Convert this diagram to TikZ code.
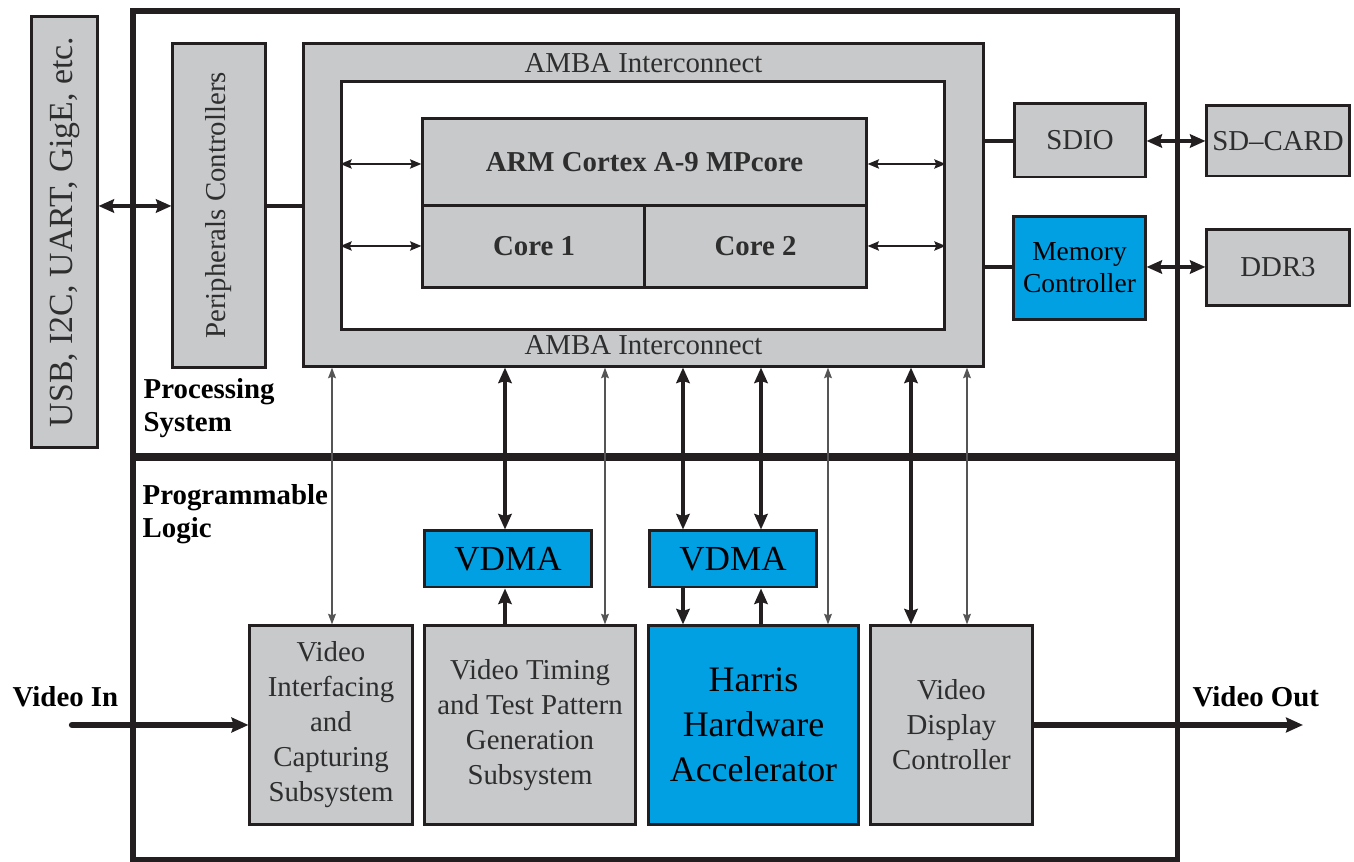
\documentclass[tikz,border=0pt]{standalone}
\usepackage{fontspec}
\setmainfont{Liberation Serif}
\usetikzlibrary{arrows.meta}
\definecolor{boxgray}{HTML}{C8C9CB}
\definecolor{boxblue}{HTML}{00A0E3}
\definecolor{txtgray}{HTML}{2E2E2E}
\definecolor{edge}{HTML}{231F20}
\definecolor{thingray}{HTML}{555555}
\begin{document}
\begin{tikzpicture}[x=0.01cm,y=-0.01cm,
  basefont/.style={font=\fontsize{8.2}{9.96}\selectfont},
  gbox/.style={draw=edge, line width=0.85pt, fill=boxgray, inner sep=0pt,
    text=txtgray, align=center, basefont},
  bbox/.style={gbox, fill=boxblue, text=black},
  bigtxt/.style={font=\fontsize{10.2}{12.8}\selectfont},
  lbl/.style={inner sep=0pt, align=left, text=black,
    font=\fontsize{8.2}{9.5}\selectfont\bfseries},
  thick arr/.style={draw=edge, line width=1.15pt,
    {Stealth[length=4.4pt,width=3.8pt,inset=0.6pt]}-{Stealth[length=4.4pt,width=3.8pt,inset=0.6pt]}},
  thick one/.style={draw=edge, line width=1.15pt,
    -{Stealth[length=4.4pt,width=3.8pt,inset=0.6pt]}},
  thin arr/.style={draw=thingray, line width=0.45pt,
    {Stealth[length=3pt,width=2.2pt,inset=0.4pt]}-{Stealth[length=3pt,width=2.2pt,inset=0.4pt]}},
  inner arr/.style={draw=edge, line width=0.6pt,
    {Stealth[length=3.2pt,width=2.6pt,inset=0.5pt]}-{Stealth[length=3.2pt,width=2.6pt,inset=0.5pt]}},
  link/.style={draw=edge, line width=1.1pt},
  video/.style={draw=edge, line width=1.8pt,
    -{Stealth[length=4.8pt,width=4.2pt,inset=0.6pt]}}]
\useasboundingbox (0,0) rectangle (1354,862);

% frame
\node[draw=edge, line width=1.6pt, minimum width=10.44cm, minimum height=8.49cm, inner sep=0pt] (frame) at (655,435.5) {};
\coordinate (divy) at (0,457);
\draw[draw=edge, line width=2.3pt] (frame.west |- divy) -- (frame.east |- divy);

% left column
\node[gbox, rotate=90, minimum width=4.30cm, minimum height=0.65cm,
  font=\fontsize{9.6}{11}\selectfont] (usb) at (64.5,232) {USB, I2C, UART, GigE, etc.};
\node[gbox, rotate=90, minimum width=3.23cm, minimum height=0.92cm] (peri) at (219,205.5) {Peripherals Controllers};

% AMBA
\node[gbox, minimum width=6.79cm, minimum height=3.22cm] (amba) at (643.5,205) {};
\node[draw=edge, line width=0.85pt, fill=white, minimum width=6.02cm, minimum height=2.47cm, inner sep=0pt] (inner) at (643,205.5) {};
\node[basefont, text=txtgray, anchor=base, inner sep=0pt] (ambat) at (643.5,73) {AMBA Interconnect};
\node[basefont, text=txtgray, anchor=base, inner sep=0pt] (ambab) at (643.5,355) {AMBA Interconnect};
\node[gbox, minimum width=4.43cm, minimum height=0.87cm, font=\fontsize{8.2}{9.96}\selectfont\bfseries] (arm) at (644.5,162.5) {ARM Cortex A-9 MPcore};
\node[gbox, minimum width=2.22cm, minimum height=0.81cm, font=\fontsize{8.2}{9.96}\selectfont\bfseries] (core1) at (534,246.5) {Core 1};
\node[gbox, minimum width=2.21cm, minimum height=0.81cm, font=\fontsize{8.2}{9.96}\selectfont\bfseries] (core2) at (755.5,246.5) {Core 2};

\coordinate (ya) at (0,164);
\coordinate (yb) at (0,246);
\draw[inner arr] (inner.west |- ya) -- (arm.west |- ya);
\draw[inner arr] (inner.west |- yb) -- (core1.west |- yb);
\draw[inner arr] (arm.east |- ya) -- (inner.east |- ya);
\draw[inner arr] (core2.east |- yb) -- (inner.east |- yb);

% right column
\node[gbox, minimum width=1.30cm, minimum height=0.73cm] (sdio) at (1080,140.5) {SDIO};
\node[bbox, minimum width=1.31cm, minimum height=1.02cm, font=\fontsize{7.8}{9.1}\selectfont] (memc) at (1079.5,268) {Memory\\Controller};
\node[gbox, minimum width=1.42cm, minimum height=0.70cm] (sdcard) at (1278,141) {SD--CARD};
\node[gbox, minimum width=1.42cm, minimum height=0.75cm] (ddr) at (1278,267.5) {DDR3};

\coordinate (ys) at (0,141);
\coordinate (ym) at (0,267);
\coordinate (yp) at (0,206);
\draw[link] (amba.east |- ys) -- (sdio.west |- ys);
\draw[link] (amba.east |- ym) -- (memc.west |- ym);
\draw[thick arr] (sdio.east |- ys) -- (sdcard.west |- ys);
\draw[thick arr] (memc.east |- ym) -- (ddr.west |- ym);
\draw[thick arr] (usb.south |- yp) -- (peri.north |- yp);
\draw[link] (peri.south |- yp) -- (amba.west |- yp);

% labels
\node[lbl, anchor=north west] (ps) at (143,377.5) {Processing\\System};
\node[lbl, anchor=north west] (pl) at (142,483.5) {Programmable\\Logic};

% PL blocks
\node[bbox, minimum width=1.66cm, minimum height=0.56cm, font=\fontsize{10}{12}\selectfont] (vdma1) at (508,559) {VDMA};
\node[bbox, minimum width=1.66cm, minimum height=0.56cm, font=\fontsize{10}{12}\selectfont] (vdma2) at (733,559) {VDMA};
\node[gbox, minimum width=1.62cm, minimum height=1.98cm] (vif) at (331,725) {Video\\Interfacing\\and\\Capturing\\Subsystem};
\node[gbox, minimum width=2.10cm, minimum height=1.98cm] (vtg) at (530,725) {Video Timing\\and Test Pattern\\Generation\\Subsystem};
\node[bbox, minimum width=2.09cm, minimum height=1.98cm, bigtxt] (harris) at (753.5,725) {Harris\\Hardware\\Accelerator};
\node[gbox, minimum width=1.61cm, minimum height=1.98cm] (vdc) at (951.5,725) {Video\\Display\\Controller};

% vertical connectors
\coordinate (c1) at (332,0);
\coordinate (c2) at (505,0);
\coordinate (c3) at (605,0);
\coordinate (c4) at (683,0);
\coordinate (c5) at (761,0);
\coordinate (c6) at (828,0);
\coordinate (c7) at (911,0);
\coordinate (c8) at (967,0);
\draw[thin arr] (amba.south -| c1) -- (vif.north -| c1);
\draw[thick arr] (amba.south -| c2) -- (vdma1.north -| c2);
\draw[thin arr] (amba.south -| c3) -- (vtg.north -| c3);
\draw[thick arr] (amba.south -| c4) -- (vdma2.north -| c4);
\draw[thick arr] (amba.south -| c5) -- (vdma2.north -| c5);
\draw[thin arr] (amba.south -| c6) -- (harris.north -| c6);
\draw[thick arr] (amba.south -| c7) -- (vdc.north -| c7);
\draw[thin arr] (amba.south -| c8) -- (vdc.north -| c8);
\draw[thick one] (vtg.north -| c2) -- (vdma1.south -| c2);
\draw[thick one] (vdma2.south -| c4) -- (harris.north -| c4);
\draw[thick one] (harris.north -| c5) -- (vdma2.south -| c5);

% video in / out
\coordinate (vin) at (72,725);
\coordinate (vout) at (1303,725);
\coordinate (yv) at (0,725);
\draw[video, line cap=round] (vin) -- (vif.west |- yv);
\draw[video] (vdc.east |- yv) -- (vout);
\node[lbl, anchor=base west] (vinl) at (12,707) {Video In};
\node[lbl, anchor=base west] (voutl) at (1192,707) {Video Out};
\end{tikzpicture}
\end{document}
